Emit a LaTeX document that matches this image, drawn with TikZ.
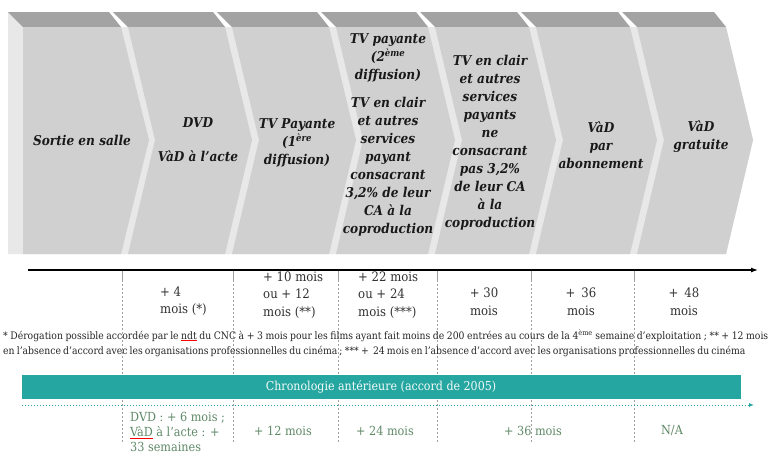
\documentclass[tikz,border=0pt]{standalone}
\usepackage{fontspec}
\setmainfont{DejaVu Serif Condensed}
\usetikzlibrary{arrows.meta}
\definecolor{faceg}{RGB}{208,208,208}
\definecolor{roofg}{RGB}{163,163,163}
\definecolor{sideg}{RGB}{232,232,232}
\definecolor{tealbar}{RGB}{38,166,160}
\definecolor{oldtxt}{RGB}{96,138,104}
\newcommand\redul[1]{\setbox0\hbox{#1}\rlap{\color{red}\raisebox{-1.8pt}{\rule{\wd0}{0.6pt}}}#1}
\tikzset{
  chevtxt/.style={font=\bfseries\itshape\fontsize{13.5}{18}\selectfont, align=center, text=black!90, inner sep=0pt},
  lbl/.style={font=\fontsize{13}{17.5}\selectfont, text=black!80, inner sep=0pt},
  foot/.style={font=\fontsize{10.3}{12}\selectfont, text=black!85, inner sep=0pt, anchor=base west},
  oldlbl/.style={font=\fontsize{12.5}{15}\selectfont, text=oldtxt, inner sep=0pt},
  vsep/.style={draw=gray!75, dash pattern=on 2pt off 2pt, line width=0.6pt},
}
\begin{document}
\begin{tikzpicture}[x=1pt,y=-1pt]
\useasboundingbox (0,0) rectangle (775,456);
\fill[white] (0,0) rectangle (775,456);
% side / gap fill
\fill[sideg] (8,12) -- (23,27) -- (23,254) -- (8,254) -- cycle;
\fill[sideg] (23,27) -- (726,27) -- (753,140) -- (726,254) -- (23,254) -- cycle;
% first chevron
\fill[roofg] (8,12) -- (109,12) -- (121,27) -- (23,27) -- cycle;
\fill[faceg] (23,27) -- (121,27) -- (149,140) -- (121,254) -- (23,254) -- cycle;
% other chevrons
\foreach \L/\R in {128/225, 232/329, 336/428, 435/529, 536/630, 637/726}{
  \fill[roofg] ({\L-15},12) -- ({\R-12},12) -- (\R,27) -- (\L,27) -- cycle;
  \fill[faceg] (\L,27) -- (\R,27) -- ({\R+27},140) -- (\R,254) -- (\L,254) -- ({\L+27},140) -- cycle;
}
% chevron texts
\node[chevtxt] (c1) at (82,140) {Sortie en salle};
\node[chevtxt] (c2) at (198,140) {DVD\\[16pt]VàD à l’acte};
\node[chevtxt] (c3) at (297,143) {TV Payante\\(1\textsuperscript{ère}\\diffusion)};
\node[chevtxt] (c4) at (388,135) {TV payante\\(2\textsuperscript{ème}\\diffusion)\\[10pt]TV en clair\\et autres\\services\\payant\\consacrant\\3,2\% de leur\\CA à la\\coproduction};
\node[chevtxt] (c5) at (490,143) {TV en clair\\et autres\\services\\payants\\ne\\consacrant\\pas 3,2\%\\de leur CA\\à la\\coproduction};
\node[chevtxt] (c6) at (601,145) {VàD\\par\\abonnement};
\node[chevtxt] (c7) at (701,137) {VàD\\gratuite};
% time axis
\coordinate (axs) at (28,270);
\coordinate (axe) at (758,270);
\foreach \i/\x in {1/122, 2/233, 3/338, 4/437, 5/531, 6/634}{
  \coordinate (vt\i) at (\x,270);
  \coordinate (vm\i) at (\x,280);
  \coordinate (vb\i) at (\x,443);
  \draw[gray!75, line width=0.7pt] (vt\i) -- (vm\i);
  \draw[vsep] (vm\i) -- (vb\i);
}
\draw[line width=1.2pt, -{Latex[length=7pt,width=5pt]}] (axs) -- (axe);
% delays
\node[lbl, align=left, anchor=west] (t2) at (160,301) {+ 4\\mois (*)};
\node[lbl, align=left, anchor=west] (t3) at (263,295) {+ 10 mois\\ou + 12\\mois (**)};
\node[lbl, align=left, anchor=west] (t4) at (358,295) {+ 22 mois\\ou + 24\\mois (***)};
\node[lbl, align=center] (t5) at (484,302) {+ 30\\mois};
\node[lbl, align=center] (t6) at (581,302) {+ \,36\\mois};
\node[lbl, align=center] (t7) at (684,302) {+ \,48\\mois};
% footnote
\node[foot] (f1) at (3,339) {\makebox[765pt][s]{* Dérogation possible accordée par le \redul{ndt} du CNC à + 3 mois pour les films ayant fait moins de 200 entrées au cours de la 4\textsuperscript{ème} semaine d’exploitation ; ** + 12 mois}};
\node[foot] (f2) at (3,354) {\makebox[742pt][s]{en l’absence d’accord avec les organisations professionnelles du cinéma ; *** + \ 24 mois en l’absence d’accord avec les organisations professionnelles du cinéma}};
% old chronology bar
\fill[tealbar] (22,375) rectangle (741,399);
\node[font=\fontsize{12.3}{15}\selectfont, text=white!95!tealbar, inner sep=0pt] (bar) at (381,387) {Chronologie antérieure (accord de 2005)};
\coordinate (ds) at (22,405);
\coordinate (de) at (754,405);
\draw[tealbar, dotted, line width=1pt, -{Latex[length=5pt,width=4pt]}] (ds) -- (de);
% old delays
\node[oldlbl, align=left, anchor=west] (b2) at (130,432) {DVD : + 6 mois ;\\\redul{VàD} à l’acte : +\\33 semaines};
\node[oldlbl] (b3) at (283,431) {+ 12 mois};
\node[oldlbl] (b4) at (385,431) {+ 24 mois};
\node[oldlbl] (b5) at (533,431) {+ 36 mois};
\node[oldlbl] (b6) at (672,431) {N/A};
\end{tikzpicture}
\end{document}
